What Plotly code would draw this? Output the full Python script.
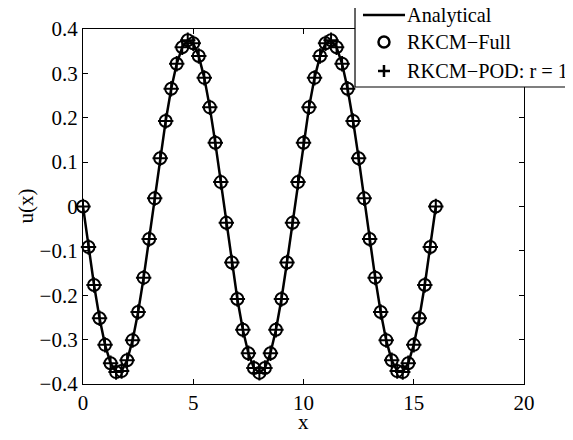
import plotly.graph_objects as go

x_vals = [i * 0.25 for i in range(65)]
u_half = [0.0, -0.0911, -0.1768, -0.2518, -0.3118, -0.3531, -0.3732, -0.3709,
          -0.3465, -0.3012, -0.2379, -0.1603, -0.0732, 0.0184, 0.1089, 0.1928,
          0.2652, 0.3217, 0.3589, 0.3746, 0.3678, 0.3390, 0.2899, 0.2234,
          0.1435, 0.0550, -0.0368, -0.1263, -0.2083, -0.2779, -0.3307, -0.3638,
          -0.375]
u_analytical = u_half + u_half[:-1][::-1]
u_full = list(u_analytical)
u_pod = list(u_analytical)

x_ticks = [0, 5, 10, 15, 20]
y_ticks = [-0.4, -0.3, -0.2, -0.1, 0, 0.1, 0.2, 0.3, 0.4]
y_ticktext = ["\u22120.4", "\u22120.3", "\u22120.2", "\u22120.1", "0", "0.1", "0.2", "0.3", "0.4"]
legend_names = ["Analytical", "RKCM\u2212Full", "RKCM\u2212POD: r = 1"]

FONT = "Liberation Serif, Times New Roman, serif"
FS = 21
LFS = 20.3

fig = go.Figure()
fig.add_trace(go.Scatter(x=x_vals, y=u_analytical, mode="lines", name=legend_names[0],
                         line=dict(color="black", width=2.5), cliponaxis=False))
fig.add_trace(go.Scatter(x=x_vals, y=u_full, mode="markers", name=legend_names[1],
                         marker=dict(symbol="circle-open", size=12, color="black",
                                     line=dict(color="black", width=2)),
                         cliponaxis=False))
fig.add_trace(go.Scatter(x=x_vals, y=u_pod, mode="markers", name=legend_names[2],
                         marker=dict(symbol="cross-thin-open", size=11, color="black",
                                     line=dict(color="black", width=2)),
                         cliponaxis=False))

# legend drawn as a box with symbols and text (paper coordinates)
row_y = [1.0394, 0.9634, 0.8817]
sym_x = 0.6825
text_x = 0.7302
shapes = [
    dict(type="rect", xref="paper", yref="paper", x0=0.6168, x1=1.3, y0=0.8366, y1=1.2,
         fillcolor="white", line=dict(color="black", width=1.2), layer="above"),
    dict(type="line", xref="paper", yref="paper", x0=0.6349, x1=0.7302,
         y0=row_y[0], y1=row_y[0], line=dict(color="black", width=2.5), layer="above"),
    dict(type="circle", xref="paper", yref="paper", xsizemode="pixel", ysizemode="pixel",
         xanchor=sym_x, yanchor=row_y[1], x0=-5.5, x1=5.5, y0=-5.5, y1=5.5,
         line=dict(color="black", width=2.5), fillcolor="rgba(0,0,0,0)", layer="above"),
    dict(type="line", xref="paper", yref="paper", xsizemode="pixel", ysizemode="pixel",
         xanchor=sym_x, yanchor=row_y[2], x0=-6, x1=6, y0=0, y1=0,
         line=dict(color="black", width=2.5), layer="above"),
    dict(type="line", xref="paper", yref="paper", xsizemode="pixel", ysizemode="pixel",
         xanchor=sym_x, yanchor=row_y[2], x0=0, x1=0, y0=-6, y1=6,
         line=dict(color="black", width=2.5), layer="above"),
]
annotations = [
    dict(text=name, xref="paper", yref="paper", x=text_x, y=yy, xanchor="left",
         yanchor="middle", showarrow=False,
         font=dict(family=FONT, size=LFS, color="black"))
    for name, yy in zip(legend_names, row_y)
]
annotations += [
    dict(text="x", xref="paper", yref="paper", x=0.5, y=-0.107,
         xanchor="center", yanchor="middle", showarrow=False,
         font=dict(family=FONT, size=FS, color="black")),
    dict(text="u(x)", xref="paper", yref="paper", x=-0.1315, y=0.5,
         xanchor="center", yanchor="middle", textangle=-90, showarrow=False,
         font=dict(family=FONT, size=FS, color="black")),
]

fig.update_layout(
    width=573, height=440,
    margin=dict(l=75, r=57, t=21, b=64, autoexpand=False),
    paper_bgcolor="white", plot_bgcolor="white",
    font=dict(family=FONT, size=FS, color="black"),
    showlegend=False,
    xaxis=dict(range=[0, 20], tickvals=x_ticks, ticks="inside", ticklen=5,
               tickcolor="black", showline=True, linecolor="black", linewidth=1.2,
               mirror="ticks", showgrid=False, zeroline=False,
               tickfont=dict(size=FS)),
    yaxis=dict(range=[-0.4, 0.4], tickvals=y_ticks, ticktext=y_ticktext,
               ticks="inside", ticklen=5, tickcolor="black", showline=True,
               linecolor="black", linewidth=1.2, mirror="ticks", showgrid=False,
               zeroline=False, tickfont=dict(size=FS)),
    shapes=shapes,
    annotations=annotations,
)

fig.write_html("out.html")
